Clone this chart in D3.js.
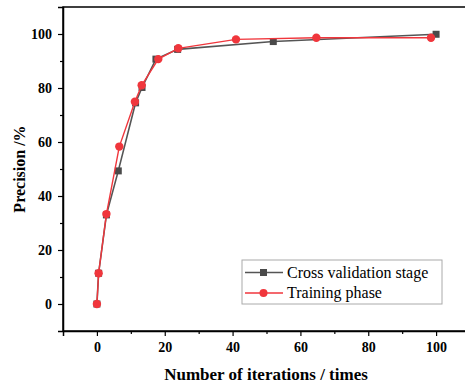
<!DOCTYPE html>
<html>
<head>
<meta charset="utf-8">
<script src="https://cdn.jsdelivr.net/npm/d3@7"></script>
<style>
	body { margin: 0; background: #fff; }
	svg { display: block; }
</style>
</head>
<body>
<div id="chart"></div>
<script>
	"use strict";

	// data
	var cvIter = [0, 0.5, 2.8, 6.3, 11.4, 13.3, 17.4, 23.8, 52, 100],
		cvPrec = [0, 11.4, 33, 49.3, 74.5, 80.2, 90.7, 94.3, 97.2, 99.9];
	var trIter = [0, 0.5, 2.8, 6.6, 11.2, 13.2, 18.1, 24, 41, 64.7, 98.5],
		trPrec = [0, 11.4, 33.3, 58.3, 74.9, 81, 90.7, 94.7, 98, 98.6, 98.6];
	var xTicks = [0, 20, 40, 60, 80, 100],
		yTicks = [0, 20, 40, 60, 80, 100];
	var seriesNames = ["Cross validation stage", "Training phase"];

	var width = 465, height = 385;
	var margin = {left: 63, top: 7, right: -5, bottom: 54};

	var svg = d3.select("#chart").append("svg")
		.attr("width", width)
		.attr("height", height);

	var xScale = d3.scaleLinear().domain([-10, 110])
		.range([margin.left, width - margin.right]);
	var yScale = d3.scaleLinear().domain([-10, 110])
		.range([height - margin.bottom, margin.top]);

	var FONT = "'Liberation Serif', 'Times New Roman', serif";

	// frame
	svg.append("rect")
		.attr("x", xScale(-10)).attr("y", yScale(110))
		.attr("width", xScale(110) - xScale(-10))
		.attr("height", yScale(-10) - yScale(110))
		.attr("fill", "none").attr("stroke", "#000").attr("stroke-width", 1.5);

	// x axis
	svg.append("g")
		.attr("transform", "translate(0," + yScale(-10) + ")")
		.call(d3.axisBottom(xScale).tickValues(xTicks).tickSize(5).tickPadding(6));
	svg.append("g")
		.attr("transform", "translate(0," + yScale(-10) + ")")
		.call(d3.axisBottom(xScale).tickValues([10, 30, 50, 70, 90]).tickSize(3).tickFormat(""))
		.select(".domain").remove();

	// y axis
	svg.append("g")
		.attr("transform", "translate(" + xScale(-10) + ",0)")
		.call(d3.axisLeft(yScale).tickValues(yTicks).tickSize(5).tickPadding(6));
	svg.append("g")
		.attr("transform", "translate(" + xScale(-10) + ",0)")
		.call(d3.axisLeft(yScale).tickValues([10, 30, 50, 70, 90]).tickSize(3).tickFormat(""))
		.select(".domain").remove();

	svg.selectAll(".domain").attr("stroke-width", 1.5);
	svg.selectAll(".tick line").attr("stroke-width", 1.2);
	svg.selectAll(".tick text")
		.attr("font-family", FONT)
		.attr("font-weight", "bold")
		.attr("font-size", 14)
		.attr("fill", "#000");

	// axis titles
	svg.append("text")
		.attr("x", 266).attr("y", 380)
		.attr("text-anchor", "middle")
		.attr("font-family", FONT).attr("font-weight", "bold").attr("font-size", 17)
		.text("Number of iterations / times");
	svg.append("text")
		.attr("transform", "translate(25,169) rotate(-90)")
		.attr("text-anchor", "middle")
		.attr("font-family", FONT).attr("font-weight", "bold").attr("font-size", 16)
		.text("Precision /%");

	// series
	function pairs(xs, ys) {
		return xs.map(function(d, i) { return [d, ys[i]]; });
	}
	var line = d3.line()
		.x(function(d) { return xScale(d[0]); })
		.y(function(d) { return yScale(d[1]); });

	var cvData = pairs(cvIter, cvPrec),
		trData = pairs(trIter, trPrec);

	var gray = "#4a4a4a", red = "#f0363c";

	svg.append("path").datum(cvData)
		.attr("d", line).attr("fill", "none")
		.attr("stroke", "#555").attr("stroke-width", 1.6);
	svg.append("g").selectAll("rect").data(cvData).enter().append("rect")
		.attr("x", function(d) { return xScale(d[0]) - 3.5; })
		.attr("y", function(d) { return yScale(d[1]) - 3.5; })
		.attr("width", 7).attr("height", 7)
		.attr("fill", gray);

	svg.append("path").datum(trData)
		.attr("d", line).attr("fill", "none")
		.attr("stroke", red).attr("stroke-width", 1.4);
	svg.append("g").selectAll("circle").data(trData).enter().append("circle")
		.attr("cx", function(d) { return xScale(d[0]); })
		.attr("cy", function(d) { return yScale(d[1]); })
		.attr("r", 4.2)
		.attr("fill", red);

	// legend
	var legend = svg.append("g");
	legend.append("rect")
		.attr("x", 242).attr("y", 260).attr("width", 200).attr("height", 44)
		.attr("fill", "#fff").attr("stroke", "#aaa").attr("stroke-width", 1);
	seriesNames.forEach(function(name, i) {
		var y = 272.5 + i * 20.5;
		legend.append("line")
			.attr("x1", 245).attr("x2", 283).attr("y1", y).attr("y2", y)
			.attr("stroke", i === 0 ? "#555" : red).attr("stroke-width", 1.5);
		if (i === 0) {
			legend.append("rect").attr("x", 260).attr("y", y - 3.5)
				.attr("width", 7).attr("height", 7).attr("fill", gray);
		} else {
			legend.append("circle").attr("cx", 263.5).attr("cy", y)
				.attr("r", 4).attr("fill", red);
		}
		legend.append("text")
			.attr("x", 287).attr("y", y + 5)
			.attr("font-family", FONT).attr("font-size", 16)
			.attr("fill", "#000")
			.text(name);
	});
</script>
</body>
</html>
